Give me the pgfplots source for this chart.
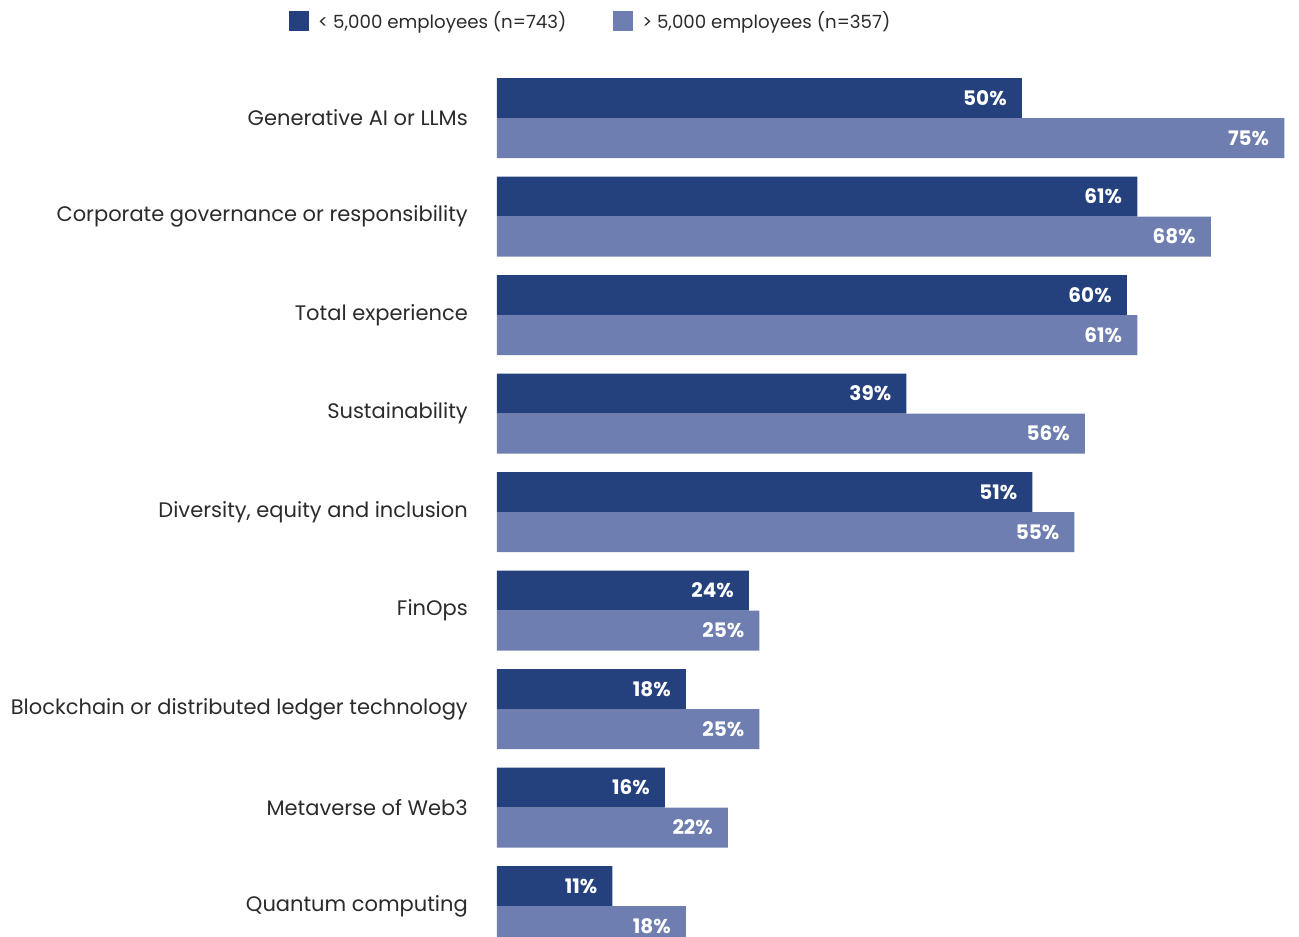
\documentclass[border=0pt]{standalone}
\usepackage{pgfplots}
\pgfplotsset{compat=1.18}
\usepackage{fontspec}
\setmainfont{Poppins}
\definecolor{darkbar}{HTML}{24417D}
\definecolor{lightbar}{HTML}{6E7EB0}
\definecolor{txt}{HTML}{2B2B2B}
\pgfplotstableread{
y v
-0.203 50
0.797 61
1.797 60
2.797 39
3.797 51
4.797 24
5.797 18
6.797 16
7.797 11
}\small
\pgfplotstableread{
y v
0.203 75
1.203 68
2.203 61
3.203 56
4.203 55
5.203 25
6.203 25
7.203 22
8.203 18
}\large
\begin{document}
\begin{tikzpicture}[x=1pt,y=1pt]
\begin{axis}[
  at={(497pt,-34.3pt)}, anchor=north west,
  scale only axis, width=802pt, height=921pt,
  xmin=0, xmax=76.4, ymin=-0.85, ymax=8.5,
  y dir=reverse,
  xbar, bar width=40pt, bar shift=0pt,
  axis line style={draw=none},
  xtick=\empty,
  ytick={0,...,8},
  yticklabels={Generative AI or LLMs, Corporate governance or responsibility, Total experience, Sustainability, {Diversity, equity and inclusion}, FinOps, Blockchain or distributed ledger technology, Metaverse of Web3, Quantum computing},
  major tick length=0pt,
  yticklabel style={font=\fontsize{21}{25}\selectfont, text=txt, anchor=east, inner sep=0pt, xshift=-29pt},
  nodes near coords={\pgfmathprintnumber[assume math mode=true]{\pgfplotspointmeta}\%},
  point meta=x,
  nodes near coords style={anchor=east, inner xsep=0pt, xshift=-15pt, text=white, font=\fontsize{20}{24}\selectfont\bfseries},
  legend columns=2,
  legend style={at={(-0.2594,1.0144)}, anchor=west, draw=none, fill=none, inner sep=0pt,
    font=\fontsize{18.2}{22}\selectfont, text=txt,
    /tikz/every even column/.append style={column sep=47pt},
    nodes={inner sep=0pt, anchor=west}},
  legend cell align=left,
  legend image code/.code={\fill[#1, draw=none] (0pt,-10pt) rectangle (20pt,10pt);},
  clip=false,
]
\addplot[fill=darkbar, draw=none] table[x=v, y=y] {\small};
\addlegendentry{\hspace{9pt}< 5,000 employees (n=743)}
\addplot[fill=lightbar, draw=none] table[x=v, y=y] {\large};
\addlegendentry{\hspace{9pt}> 5,000 employees (n=357)}
\end{axis}
\pgfresetboundingbox
\path[use as bounding box] (0pt,0pt) rectangle (1299pt,-937pt);
\end{tikzpicture}
\end{document}
